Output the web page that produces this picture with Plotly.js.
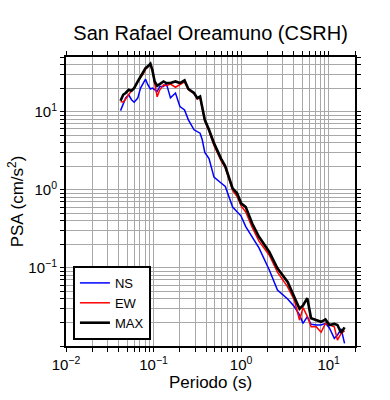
<!DOCTYPE html>
<html>
<head>
<meta charset="utf-8">
<script src="https://cdn.plot.ly/plotly-3.0.1.min.js"></script>
<style>html,body{margin:0;padding:0;background:#fff;}#chart{width:390px;height:400px;}</style>
</head>
<body>
<div id="chart"></div>
<script>
const periods = [0.042, 0.045, 0.048, 0.052, 0.056, 0.06, 0.066, 0.071, 0.076, 0.081, 0.086, 0.092, 0.097, 0.103, 0.11, 0.118, 0.13, 0.14, 0.156, 0.178, 0.2, 0.226, 0.25, 0.29, 0.316, 0.34, 0.36, 0.385, 0.43, 0.49, 0.59, 0.66, 0.8, 0.9, 1.0, 1.13, 1.34, 1.6, 2.1, 2.6, 3.4, 4.05, 4.65, 5.1, 5.7, 6.3, 7.2, 8.2, 9.2, 10.2, 11.6, 12.6, 13.9, 15.2];
const psaNS = [10.3, 12.9, 15, 16.4, 14.2, 13.2, 14.9, 20, 23.2, 26, 22.1, 19.5, 20, 19, 18.1, 21, 21, 23, 15, 17.3, 11.6, 10.5, 7.85, 5.85, 5.6, 5.3, 4.36, 3.0, 2.5, 1.45, 1.22, 1.1, 0.6, 0.52, 0.46, 0.337, 0.25, 0.18, 0.094, 0.052, 0.04, 0.032, 0.025, 0.0195, 0.0237, 0.019, 0.0186, 0.0186, 0.0195, 0.017, 0.0125, 0.0138, 0.0165, 0.0108];
const psaEW = [13.5, 13.2, 14.5, 16.5, 18.5, 20, 24, 27.5, 30, 35, 37, 40, 33, 22, 15.5, 19, 22, 21.5, 22.5, 20.5, 22, 24, 19, 17, 14.5, 15, 11, 7.6, 5.6, 3.7, 2.35, 1.9, 0.98, 0.82, 0.62, 0.52, 0.33, 0.22, 0.145, 0.088, 0.057, 0.039, 0.0214, 0.031, 0.024, 0.0176, 0.0176, 0.015, 0.0195, 0.0186, 0.0176, 0.0119, 0.0145, 0.0156];
const psaMAX = [13.8, 16.4, 17.3, 19, 18.5, 20, 24.3, 28.2, 31.2, 36, 38, 41, 34, 24.3, 21.4, 22.7, 24.3, 23.2, 23.2, 24.3, 23.2, 25.1, 19.5, 17.3, 14.9, 15.6, 11.6, 7.85, 5.85, 3.95, 2.5, 2.0, 1.04, 0.9, 0.67, 0.6, 0.37, 0.25, 0.16, 0.099, 0.066, 0.043, 0.030, 0.033, 0.041, 0.0226, 0.0214, 0.0204, 0.0219, 0.0186, 0.0192, 0.0186, 0.0148, 0.0173];
const seriesNames = ['NS', 'EW', 'MAX'];
const xDecades = [-2, -1, 0, 1];
const yDecades = [-1, 0, 1];

const font = 'Liberation Sans, Arial, sans-serif';

function logTicks(minExp, maxVal, labelled) {
  const vals = [], text = [];
  for (let e = minExp; e <= 2; e++) {
    for (let m = 1; m <= 9; m++) {
      const v = m * Math.pow(10, e);
      if (v > maxVal * 1.0001) break;
      vals.push(v);
      text.push(m === 1 && labelled.indexOf(e) >= 0 ? '10<sup>' + (e < 0 ? '\u2212' + (-e) : e) + '</sup>' : '');
    }
  }
  return {vals, text};
}
const xt = logTicks(-2, 20, xDecades);
const yt = logTicks(-2, 50, yDecades);

const traces = [
  {x: periods, y: psaNS, name: seriesNames[0], mode: 'lines', line: {color: '#0000ff', width: 1.5}},
  {x: periods, y: psaEW, name: seriesNames[1], mode: 'lines', line: {color: '#ff0000', width: 1.5}},
  {x: periods, y: psaMAX, name: seriesNames[2], mode: 'lines', line: {color: '#000000', width: 2.6}}
];
const axisCommon = {
  type: 'log', tickmode: 'array',
  showline: true, linecolor: '#000', linewidth: 2, mirror: 'allticks',
  ticks: 'outside', ticklen: 4, tickwidth: 1, tickcolor: '#000',
  showgrid: true, gridcolor: '#a8a8a8', gridwidth: 1, zeroline: false,
  tickfont: {family: font, size: 15, color: '#000'}
};
const layout = {
  width: 390, height: 400,
  margin: {l: 66, r: 35, t: 57, b: 54},
  paper_bgcolor: '#fff', plot_bgcolor: '#fff',
  font: {family: font, color: '#000'},
  title: {text: 'San Rafael Oreamuno (CSRH)', font: {family: font, size: 20, color: '#000'}, x: 0.54, xanchor: 'center', y: 0.918, yanchor: 'middle', yref: 'container'},
  xaxis: Object.assign({}, axisCommon, {range: [-2, Math.log10(20)], tickvals: xt.vals, ticktext: xt.text, title: {text: 'Periodo (s)', font: {family: font, size: 17}, standoff: 4}}),
  yaxis: Object.assign({}, axisCommon, {range: [-2, Math.log10(50)], tickvals: yt.vals, ticktext: yt.text, title: {text: 'PSA (cm/s<sup>2</sup>)', font: {family: font, size: 17}, standoff: 0}}),
  showlegend: true,
  legend: {x: 0.024, y: 0.277, xanchor: 'left', yanchor: 'top', bgcolor: '#fff', bordercolor: '#000', borderwidth: 2, font: {family: font, size: 13, color: '#000'}, itemwidth: 30}
};
Plotly.newPlot('chart', traces, layout, {displayModeBar: false, staticPlot: true});
</script>
</body>
</html>
